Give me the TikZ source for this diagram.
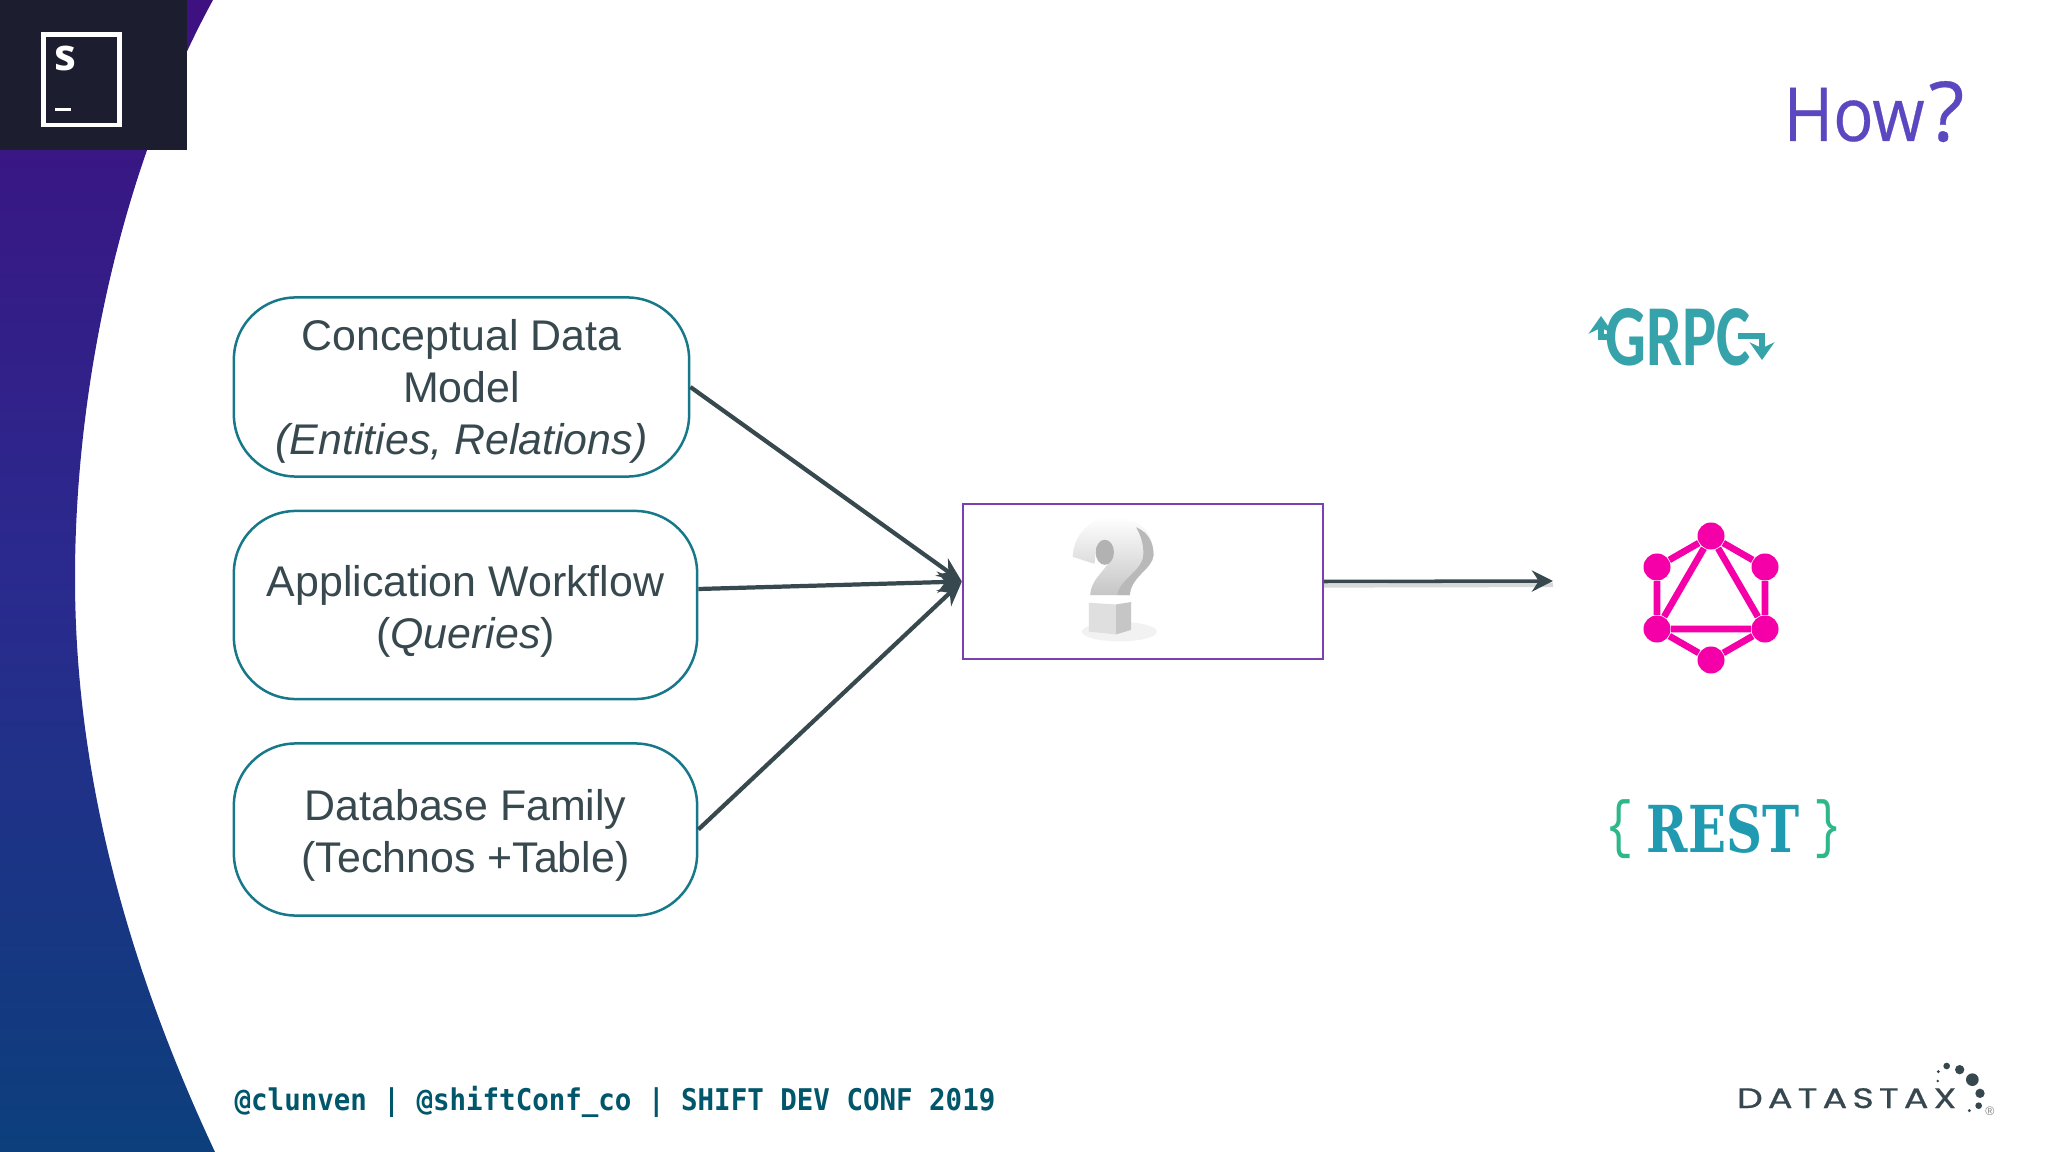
\documentclass[tikz,border=0pt]{standalone}
\usepackage{fontspec}
\usetikzlibrary{arrows.meta,calc}
\setmainfont{Liberation Sans}
\newfontfamily\monof{DejaVu Sans Mono}
\newfontfamily\howf{Open Sans}
\newfontfamily\restf{DejaVu Serif}
\newfontfamily\bracef{Liberation Mono}
\newfontfamily\grpcf{Carlito}
\newfontfamily\dsxf[FakeBold=0.7,LetterSpace=14]{Poppins}
\newfontfamily\howbf[FakeBold=0.4]{Open Sans}
\newcommand\fsz[2]{\fontsize{#1pt}{#2pt}\selectfont}
\definecolor{inkc}{HTML}{37494F}
\definecolor{tealb}{HTML}{17788A}
\definecolor{purp}{HTML}{7B3FB0}
\definecolor{howc}{HTML}{5B47C0}
\definecolor{grpcc}{HTML}{36A3AB}
\definecolor{qlc}{HTML}{F500A8}
\definecolor{restc}{HTML}{1F9AB0}
\definecolor{bracec}{HTML}{2EB88A}
\definecolor{footc}{HTML}{00566B}
\definecolor{logobg}{HTML}{1C1E30}
\definecolor{dsxc}{HTML}{37474F}
\definecolor{bgtop}{HTML}{3E1080}
\definecolor{bgmid}{HTML}{2A2A8E}
\definecolor{bgbot}{HTML}{0C3F7C}
\tikzset{
  roundbox/.style={draw=tealb,line width=0.25mm,rounded corners=0.62cm,inner sep=0pt,
    align=center,text=inkc,font=\fsz{12.2}{14.7}},
  feed/.style={draw=inkc,line width=1.2pt,-{Stealth[length=7pt,width=6pt]},shorten >=0pt},
  gqlink/.style={draw=qlc,line width=1.9pt},
  gqdot/.style={circle,fill=qlc,minimum size=0.27cm,inner sep=0pt},
  dsxdot/.style={circle,fill=dsxc,inner sep=0pt}
}
\begin{document}
\begin{tikzpicture}[x=0.01cm,y=-0.01cm]
\useasboundingbox (0,0) rectangle (2048,1152);
\fill[white] (0,0) rectangle (2048,1152);
% curved background
\begin{scope}
\clip (0,0) -- (213,0) .. controls (120,170) and (75,390) .. (75,578)
  .. controls (75,770) and (125,960) .. (215,1152) -- (0,1152) -- cycle;
\shade[top color=bgtop,bottom color=bgbot,middle color=bgmid] (0,0) rectangle (240,1152);
\end{scope}
% logo
\fill[logobg] (0,0) rectangle (187,150);
\draw[white,line width=1.4pt] (43.5,34.5) rectangle (119.5,125);
\node[text=white,font=\howf\bfseries\fsz{12.5}{13}] (logos) at (65,58) {s};
\draw[white,line width=1pt] (55,109.5) -- (71,109.5);
% title
\node[anchor=base west,inner sep=0pt,text=howc,font=\howbf\fsz{21.2}{24},xscale=0.9,transform shape] (how) at (1783,141) {How};
\node[anchor=base west,inner sep=0pt,text=howc,font=\howbf\fsz{23.5}{24}] (qm) at (1928,141) {?};
% boxes
\node[roundbox,minimum width=4.55cm,minimum height=1.79cm] (b1) at (461.5,387)
  {\rule{0pt}{11.4pt}Conceptual Data\\Model\\\textit{(Entities, Relations)}};
\node[roundbox,minimum width=4.63cm,minimum height=1.88cm] (b2) at (465.5,605)
  {\rule{0pt}{12.4pt}Application Workflow\\(\textit{Queries})};
\node[roundbox,minimum width=4.63cm,minimum height=1.72cm] (b3) at (465.5,829.5)
  {\rule{0pt}{12pt}Database Family\\(Technos +Table)};
\node[draw=purp,line width=0.2mm,minimum width=3.6cm,minimum height=1.55cm,inner sep=0pt] (c) at (1143,581.5) {};
\coordinate (b2out) at ($(b2.east)+(0,-16)$);
\coordinate (outend) at (1553,581);
% connectors
\draw[feed] (b1.east) -- (c.west);
\draw[feed] (b2out) -- (c.west);
\draw[feed] (b3.east) -- (c.west);
\draw[gray!50,line width=1.2pt,opacity=.6] ($(c.east)+(0,4)$) -- ($(outend)+(0,4)$);
\draw[draw=inkc,line width=1pt,-{Stealth[length=6pt,width=6pt]}] (c.east) -- (outend);
% question mark picture
\begin{scope}[shift={(936,475)},x=0.00417cm,y=-0.00348cm]
  \fill[gray!10] (440,450) ellipse (90 and 28);
  \shade[top color=white,bottom color=gray!45,draw=none]
    (328,235) .. controls (330,170) and (370,120) .. (430,120)
    .. controls (490,120) and (522,170) .. (522,230)
    .. controls (520,270) and (468,290) .. (465,345) -- (370,345)
    .. controls (372,290) and (420,270) .. (425,215)
    .. controls (425,195) and (400,180) .. (388,200)
    .. controls (378,215) and (385,240) .. (380,255) -- cycle;
  \fill[gray!55] (522,230) .. controls (520,270) and (468,290) .. (465,345) -- (435,345)
    .. controls (440,300) and (490,280) .. (497,235) .. controls (500,200) and (490,170) .. (480,150)
    .. controls (510,165) and (522,195) .. (522,230) -- cycle;
  \fill[gray!60] (405,222) ellipse (22 and 36);
  \fill[gray!25] (367,367) -- (432,372) -- (432,458) -- (367,450) -- cycle;
  \fill[gray!45] (432,372) -- (468,365) -- (468,445) -- (432,458) -- cycle;
\end{scope}
% gRPC
\node[inner sep=0pt,text=grpcc,font=\grpcf\bfseries\fsz{24.7}{25},xscale=0.74,transform shape] (grpc) at (1678,337) {GRPC};
\draw[grpcc,line width=1.7pt,-{Stealth[length=5pt,width=7pt]}] (1612,337) -- (1601,337) -- (1601,316);
\draw[grpcc,line width=1.7pt,-{Stealth[length=5pt,width=7pt]}] (1738,336) -- (1762,336) -- (1762,360);
% GraphQL
\node[gqdot] (q1) at (1711,536) {};
\node[gqdot] (q2) at (1765,567) {};
\node[gqdot] (q3) at (1765,629) {};
\node[gqdot] (q4) at (1711,660) {};
\node[gqdot] (q5) at (1657,629) {};
\node[gqdot] (q6) at (1657,567) {};
\draw[gqlink] (q1) -- (q2) -- (q3) -- (q4) -- (q5) -- (q6) -- (q1) (q1) -- (q3) -- (q5) -- (q1);
% REST
\node[inner sep=0pt,anchor=base,text=restc,font=\restf\bfseries\fsz{18.4}{20},xscale=0.77,transform shape] (rest) at (1723,852) {REST};
\node[inner sep=0pt,text=bracec,font=\bracef\fsz{18}{20},xscale=.75,transform shape] (bl) at (1620,829) {\{};
\node[inner sep=0pt,text=bracec,font=\bracef\fsz{18}{20},xscale=.75,transform shape] (br) at (1828,829) {\}};
% footer
\node[anchor=base west,inner sep=0pt,text=footc,font=\monof\bfseries\fsz{8.5}{9},xscale=.919,transform shape] (foot) at (234,1110)
  {@clunven | @shiftConf\_co | SHIFT DEV CONF 2019};
% DataStax
\node[anchor=base west,inner sep=0pt,text=dsxc,font=\dsxf\fsz{8}{9},xscale=1.3,transform shape] (dsx) at (1736,1108)
  {DATASTAX};
\foreach \zx/\zy/\zr in {1165/935/5,1190/918/10,1229/929/14,1267/959/19,1163/963/4,1290/1000/14,1286/1037/10,1258/1052/5}
  \fill[dsxc] (1550+\zx/3,760+\zy/3) circle (\zr/3);
\node[inner sep=0pt,text=gray,font=\fsz{3.5}{4}] (reg) at (1990,1111) {®};
\end{tikzpicture}
\end{document}
